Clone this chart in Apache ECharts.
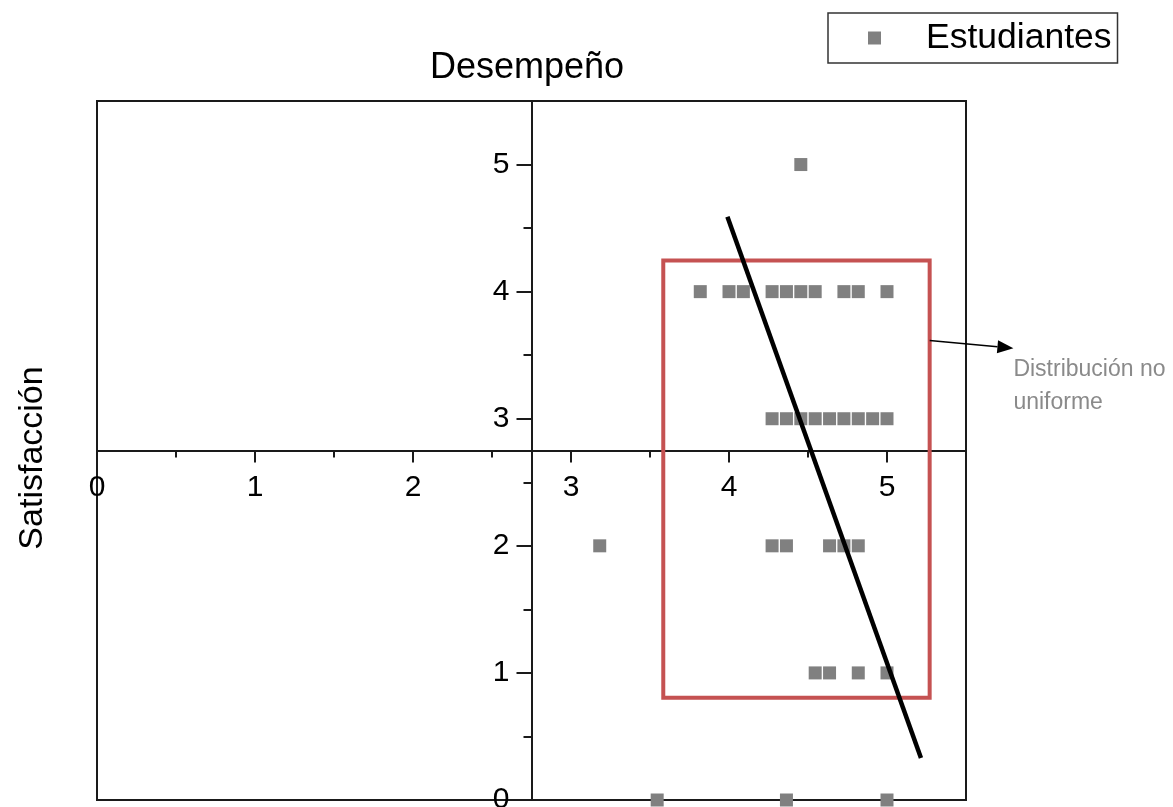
<!DOCTYPE html>
<html>
<head>
<meta charset="utf-8">
<script src="https://cdn.jsdelivr.net/npm/echarts@6/dist/echarts.min.js"></script>
<style>
html,body{margin:0;padding:0;background:#fff;}
#chart{width:1173px;height:807px;}
</style>
</head>
<body>
<div id="chart"></div>
<script>
// ---- Data (Desempeño values per Satisfacción level) ----
const seriesName = 'Estudiantes';
const sat5 = [4.4545];
const sat4 = [3.8182, 4.0, 4.0909, 4.2727, 4.3636, 4.4545, 4.5455, 4.7273, 4.8182, 5.0];
const sat3 = [4.2727, 4.3636, 4.4545, 4.5455, 4.6364, 4.7273, 4.8182, 4.9091, 5.0];
const sat2 = [3.1818, 4.2727, 4.3636, 4.6364, 4.7273, 4.8182];
const sat1 = [4.5455, 4.6364, 4.8182, 5.0];
const sat0 = [3.5455, 4.3636, 5.0];
const trendX = [3.99, 5.215];
const trendY = [4.59, 0.33];
const boxX = [3.584, 5.27];
const boxY = [0.805, 4.245];
const arrowFrom = [5.27, 3.615];
const arrowTo = [5.80, 3.555];
const noteText = 'Distribución no\nuniforme';
const xName = 'Desempeño';
const yName = 'Satisfacción';
const axisMin = 0, axisMax = 5.5;

const levels = [[5, sat5], [4, sat4], [3, sat3], [2, sat2], [1, sat1], [0, sat0]];
const points = [];
levels.forEach(([y, xs]) => xs.forEach(x => points.push([x, y])));
const trendData = trendX.map((x, i) => [x, trendY[i]]);

const FONT = 'Liberation Sans, Arial, sans-serif';
const chart = echarts.init(document.getElementById('chart'));
const intLabel = v => (Math.abs(v - Math.round(v)) < 1e-9 ? String(Math.round(v)) : '');
const AX = '#1a1a1a';

chart.setOption({
  animation: false,
  textStyle: { fontFamily: FONT },
  grid: { left: 97, top: 101, width: 869, height: 699, show: true, borderColor: AX, borderWidth: 2,
          backgroundColor: 'transparent', containLabel: false, outerBoundsMode: 'none' },
  legend: {
    data: [seriesName], left: 828, top: 13, padding: [5, 6, 5, 40], itemGap: 0,
    itemWidth: 13, itemHeight: 13, icon: 'rect',
    borderColor: '#333', borderWidth: 1.5, selectedMode: false,
    textStyle: { fontSize: 35.5, color: '#000', fontFamily: FONT, lineHeight: 40, padding: [0, 0, 0, 40] }
  },
  xAxis: [
    { type: 'value', min: axisMin, max: axisMax, interval: 1, position: 'bottom', offset: -349.5,
      axisLine: { show: true, onZero: false, lineStyle: { color: AX, width: 2 } },
      axisTick: { show: true, length: 12, lineStyle: { color: AX, width: 2 } },
      axisLabel: { fontSize: 30, color: '#000', margin: 22, formatter: intLabel, fontFamily: FONT },
      splitLine: { show: false } },
    { type: 'value', min: axisMin, max: axisMax, interval: 0.5, position: 'bottom', offset: -349.5,
      axisLine: { show: false, onZero: false }, axisTick: { show: true, length: 7, lineStyle: { color: AX, width: 2 } },
      axisLabel: { show: false }, splitLine: { show: false } },
    { type: 'value', min: axisMin, max: axisMax, position: 'top',
      axisLine: { show: false, onZero: false }, axisTick: { show: false }, axisLabel: { show: false }, splitLine: { show: false },
      name: xName, nameLocation: 'middle', nameGap: 15,
      nameTextStyle: { fontSize: 36, color: '#000', fontFamily: FONT, padding: [0, 9, 0, 0] } }
  ],
  yAxis: [
    { type: 'value', min: axisMin, max: axisMax, interval: 1, position: 'left', offset: -434.5,
      axisLine: { show: true, onZero: false, lineStyle: { color: AX, width: 2 } },
      axisTick: { show: true, length: 15, lineStyle: { color: AX, width: 2 } },
      axisLabel: { fontSize: 30, color: '#000', margin: 22, formatter: intLabel, fontFamily: FONT },
      splitLine: { show: false },
      name: yName, nameLocation: 'middle', nameRotate: 90, nameGap: 482,
      nameTextStyle: { fontSize: 34, color: '#000', fontFamily: FONT, padding: [0, 15, 0, 0] } },
    { type: 'value', min: axisMin, max: axisMax, interval: 0.5, position: 'left', offset: -434.5,
      axisLine: { show: false, onZero: false }, axisTick: { show: true, length: 8, lineStyle: { color: AX, width: 2 } },
      axisLabel: { show: false }, splitLine: { show: false } }
  ],
  series: [
    { name: seriesName, type: 'scatter', xAxisIndex: 0, yAxisIndex: 0, data: points, clip: false,
      symbol: 'rect', symbolSize: 13, itemStyle: { color: '#808080', opacity: 1 }, z: 2,
      markArea: {
        silent: true,
        itemStyle: { color: 'rgba(0,0,0,0)', borderColor: '#C55252', borderWidth: 4 },
        data: [[{ coord: [boxX[0], boxY[1]] }, { coord: [boxX[1], boxY[0]] }]]
      } },
    { name: 'trend', type: 'line', xAxisIndex: 0, yAxisIndex: 0, data: trendData, showSymbol: false, symbol: 'none',
      lineStyle: { color: '#000', width: 4.5 }, z: 5, silent: true }
  ]
});

// Annotation arrow + text (positions derived from data coords)
const p0 = chart.convertToPixel({ xAxisIndex: 0, yAxisIndex: 0 }, arrowFrom);
const p1 = chart.convertToPixel({ xAxisIndex: 0, yAxisIndex: 0 }, arrowTo);
const dx = p1[0] - p0[0], dy = p1[1] - p0[1];
const len = Math.sqrt(dx * dx + dy * dy);
const ux = dx / len, uy = dy / len;
const headL = 16, headW = 6.5;
const bx = p1[0] - ux * headL, by = p1[1] - uy * headL;
chart.setOption({
  graphic: [
    { type: 'line', shape: { x1: p0[0], y1: p0[1], x2: bx, y2: by }, style: { stroke: '#000', lineWidth: 1.5 }, z: 10 },
    { type: 'polygon', shape: { points: [[p1[0], p1[1]], [bx - uy * headW, by + ux * headW], [bx + uy * headW, by - ux * headW]] },
      style: { fill: '#000' }, z: 10 },
    { type: 'text', left: p1[0], top: p1[1] + 5,
      style: { text: noteText, font: '23px ' + FONT, fill: '#8a8a8a', lineHeight: 33 }, z: 10 }
  ]
});
</script>
</body>
</html>
